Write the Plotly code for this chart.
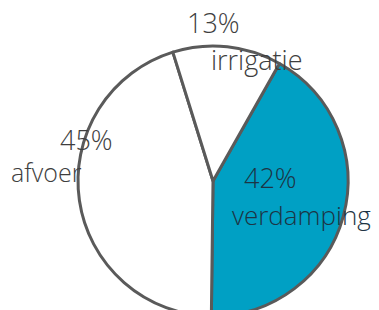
import plotly.graph_objects as go

labels = ["verdamping", "afvoer", "irrigatie"]
values = [42, 45, 13]
pct_text = ["42%", "45%", "13%"]
colors = ["#00A0C4", "#FFFFFF", "#FFFFFF"]

W, H = 379, 330
L, R, T, B = 78, 31, 46, 14
PW, PH = W - L - R, H - T - B

def px(x, y):
    return (x - L) / PW, (H - B - y) / PH

fig = go.Figure(go.Pie(
    labels=labels, values=values, sort=False, direction="clockwise",
    rotation=29.5, textinfo="none", hoverinfo="label+percent",
    marker=dict(colors=colors, line=dict(color="#5a5a5a", width=3)),
    showlegend=False,
))

ann_spec = [
    # text, pixel x, pixel y, size, color
    (pct_text[2], 213, 22, 27, "#3e3e3e"),
    (labels[2], 257, 59, 27, "#3e3e3e"),
    (pct_text[1], 86, 139, 27, "#3e3e3e"),
    (labels[1], 46, 172, 25, "#3e3e3e"),
    (pct_text[0], 270, 177, 27, "#1d3444"),
    (labels[0], 301, 215, 26, "#1d3444"),
]
anns = []
for t, x, y, s, c in ann_spec:
    xp, yp = px(x, y)
    anns.append(dict(text=t, x=xp, y=yp, xref="paper", yref="paper",
                     showarrow=False, xanchor="center", yanchor="middle",
                     font=dict(family="Open Sans", size=s, color=c, weight=300)))

fig.update_layout(width=W, height=H, margin=dict(l=L, r=R, t=T, b=B),
                  paper_bgcolor="white", plot_bgcolor="white",
                  annotations=anns)

fig.write_html("out.html", config={"displayModeBar": False}, post_script=(
    "document.body.style.margin='0';"
    "document.body.style.overflow='hidden';"
    "document.documentElement.style.overflow='hidden';"))
